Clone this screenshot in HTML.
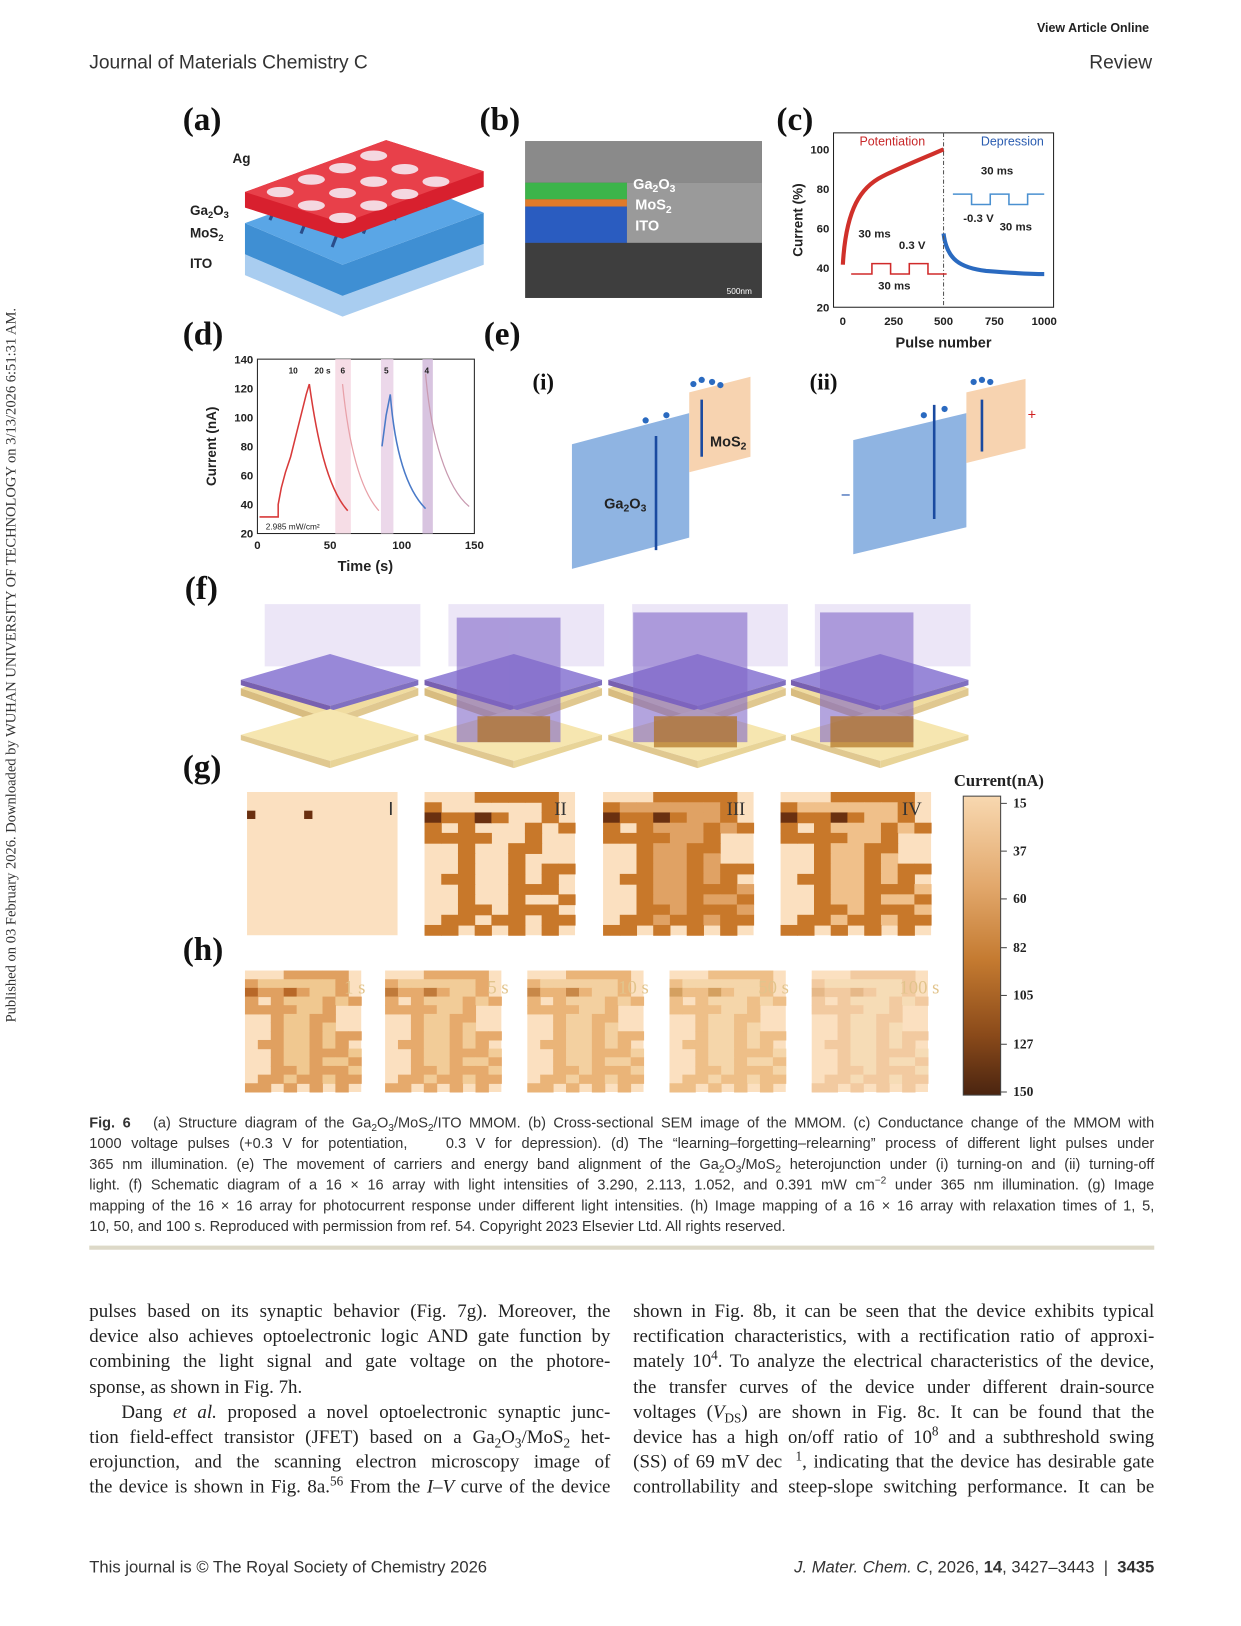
<!DOCTYPE html>
<html><head><meta charset="utf-8"><style>
*{margin:0;padding:0;box-sizing:border-box}
body{width:1241px;height:1625px;background:#fff;overflow:hidden;position:relative}
#w{position:absolute;left:0;top:0;width:1196px;height:1566px;transform:scale(1.038);transform-origin:0 0;font-family:"Liberation Sans",sans-serif;color:#222}
.a{position:absolute;white-space:nowrap}
.lab{font-family:"Liberation Serif",serif;font-weight:bold;font-size:32px;color:#111}
.cap{font-size:14px;line-height:20px;color:#333;text-align:justify;text-align-last:justify}
.body{font-family:"Liberation Serif",serif;font-size:18.2px;line-height:24.2px;color:#222;text-align:justify;text-align-last:justify}
.cap div,.body div{white-space:nowrap;height:20px}
.body div{height:24.2px}
sub,sup{line-height:0;font-size:70%}
</style></head><body><div id="w">
<div class="a" style="left:999px;top:20px;font-size:12px;font-weight:bold">View Article Online</div>
<div class="a" style="left:86px;top:49px;font-size:18.5px;color:#333">Journal of Materials Chemistry C</div>
<div class="a" style="right:86px;top:49px;font-size:18.5px;color:#333">Review</div>
<div class="a" style="left:4px;top:985px;transform:rotate(-90deg);transform-origin:0 0;font-family:'Liberation Serif',serif;font-size:14px;color:#333">Published on 03 February 2026. Downloaded by WUHAN UNIVERSITY OF TECHNOLOGY on 3/13/2026 6:51:31 AM.</div>

<div class="a lab" style="left:176px;top:96px">(a)</div>
<div class="a lab" style="left:462px;top:96px">(b)</div>
<div class="a lab" style="left:748px;top:96px">(c)</div>
<div class="a lab" style="left:176px;top:303px">(d)</div>
<div class="a lab" style="left:466px;top:303px">(e)</div>
<div class="a lab" style="left:178px;top:548px">(f)</div>
<div class="a lab" style="left:176px;top:720px">(g)</div>
<div class="a lab" style="left:176px;top:896px">(h)</div>

<svg class="a" style="left:0;top:0" width="1188" height="1060" font-family="Liberation Sans,sans-serif">
<polygon points="236,245 330,285 466,235 466,255 330,305 236,265" fill="#a9cdf0"/>
<polygon points="236,215 330,255 466,205 466,235 330,285 236,245" fill="#3f8fd3"/>
<polygon points="236,215 372,165 466,205 330,255" fill="#5aa6e6"/>
<g stroke="#2a4d8a" stroke-width="3"><line x1="260" y1="212" x2="270" y2="190"/><line x1="290" y1="225" x2="300" y2="200"/><line x1="320" y1="238" x2="330" y2="212"/><line x1="350" y1="225" x2="360" y2="200"/><line x1="380" y1="212" x2="390" y2="188"/><line x1="410" y1="200" x2="420" y2="178"/></g>
<polygon points="236,185 372,135 466,165 466,180 330,230 236,200" fill="#d8202e"/>
<polygon points="236,185 372,135 466,165 330,215" fill="#e8404a"/>
<g fill="#f4d8e0"><ellipse cx="270" cy="185" rx="13" ry="5"/><ellipse cx="300" cy="173" rx="13" ry="5"/><ellipse cx="330" cy="162" rx="13" ry="5"/><ellipse cx="360" cy="150" rx="13" ry="5"/><ellipse cx="300" cy="198" rx="13" ry="5"/><ellipse cx="330" cy="186" rx="13" ry="5"/><ellipse cx="360" cy="175" rx="13" ry="5"/><ellipse cx="390" cy="163" rx="13" ry="5"/><ellipse cx="330" cy="210" rx="13" ry="5"/><ellipse cx="360" cy="198" rx="13" ry="5"/><ellipse cx="390" cy="187" rx="13" ry="5"/><ellipse cx="420" cy="175" rx="13" ry="5"/></g>
<g font-size="13" font-weight="bold" fill="#222"><text x="224" y="157">Ag</text><text x="183" y="207">Ga<tspan font-size="9" dy="3">2</tspan><tspan dy="-3">O</tspan><tspan font-size="9" dy="3">3</tspan></text><text x="183" y="229">MoS<tspan font-size="9" dy="3">2</tspan></text><text x="183" y="258">ITO</text></g>
<rect x="506" y="136" width="228" height="151" fill="#5a5a5a"/>
<rect x="506" y="136" width="228" height="40" fill="#8a8a8a"/>
<rect x="506" y="176" width="98" height="16" fill="#3cb44a"/>
<rect x="506" y="192" width="98" height="7" fill="#e07a2a"/>
<rect x="506" y="199" width="98" height="35" fill="#2a5cc0"/>
<rect x="604" y="176" width="130" height="58" fill="#9a9a9a"/>
<rect x="506" y="234" width="228" height="53" fill="#3e3e3e"/>
<g font-size="14" font-weight="bold" fill="#fff"><text x="610" y="182">Ga<tspan font-size="10" dy="3">2</tspan><tspan dy="-3">O</tspan><tspan font-size="10" dy="3">3</tspan></text><text x="612" y="202">MoS<tspan font-size="10" dy="3">2</tspan></text><text x="612" y="222">ITO</text><text x="700" y="283" font-size="8" font-weight="normal">500nm</text></g>
<rect x="803" y="128" width="212" height="168" fill="none" stroke="#222"/>
<g font-size="11" font-weight="bold" fill="#222" text-anchor="end"><text x="799" y="148">100</text><text x="799" y="186">80</text><text x="799" y="224">60</text><text x="799" y="262">40</text><text x="799" y="300">20</text></g>
<g font-size="11" font-weight="bold" fill="#222" text-anchor="middle"><text x="812" y="313">0</text><text x="861" y="313">250</text><text x="909" y="313">500</text><text x="958" y="313">750</text><text x="1006" y="313">1000</text><text x="909" y="335" font-size="14">Pulse number</text></g>
<text x="773" y="212" font-size="13" font-weight="bold" fill="#222" transform="rotate(-90 773 212)" text-anchor="middle">Current (%)</text>
<path d="M812,255 C815,200 830,180 850,170 C870,160 890,152 909,144" stroke="#d0302a" stroke-width="4" fill="none"/>
<path d="M909,225 C912,250 925,258 950,261 C975,263 990,264 1006,264" stroke="#2a6ac0" stroke-width="4" fill="none"/>
<line x1="909" y1="128" x2="909" y2="296" stroke="#555" stroke-dasharray="4,2,1,2"/>
<text x="828" y="140" font-size="12" fill="#c8282a">Potentiation</text><text x="945" y="140" font-size="12" fill="#2a5cb0">Depression</text>
<path d="M820,264 h20 v-10 h18 v10 h18 v-10 h18 v10 h18" stroke="#d02a2a" fill="none" stroke-width="1.5"/>
<path d="M918,187 h18 v10 h18 v-10 h18 v10 h18 v-10 h16" stroke="#4a90d0" fill="none" stroke-width="1.5"/>
<g font-size="11" font-weight="bold" fill="#222"><text x="827" y="229">30 ms</text><text x="866" y="240">0.3 V</text><text x="846" y="279">30 ms</text><text x="945" y="168">30 ms</text><text x="928" y="214">-0.3 V</text><text x="963" y="222">30 ms</text></g>
<rect x="248" y="346" width="209" height="168" fill="none" stroke="#222"/>
<rect x="323" y="346" width="15" height="168" fill="#f6dde6"/><rect x="367" y="346" width="12" height="168" fill="#ecd8ea"/><rect x="407" y="346" width="10" height="168" fill="#d8c4e0"/>
<g font-size="11" font-weight="bold" fill="#222" text-anchor="end"><text x="244" y="350">140</text><text x="244" y="378">120</text><text x="244" y="406">100</text><text x="244" y="434">80</text><text x="244" y="462">60</text><text x="244" y="490">40</text><text x="244" y="518">20</text></g>
<g font-size="11" font-weight="bold" fill="#222" text-anchor="middle"><text x="248" y="529">0</text><text x="318" y="529">50</text><text x="387" y="529">100</text><text x="457" y="529">150</text><text x="352" y="550" font-size="14">Time (s)</text></g>
<text x="208" y="430" font-size="13" font-weight="bold" fill="#222" transform="rotate(-90 208 430)" text-anchor="middle">Current (nA)</text>
<path d="M250,498 h18 v-12 L271,470 L275,455 L280,440 L285,420 L290,400 L295,380 L298,370 C305,420 315,470 335,492" stroke="#d83a3a" stroke-width="1.5" fill="none"/>
<path d="M330,370 C335,420 345,470 365,492" stroke="#e8a0a8" stroke-width="1.2" fill="none"/>
<path d="M368,430 L372,400 L376,380 C380,430 390,470 410,490" stroke="#4a7ac8" stroke-width="1.5" fill="none"/>
<path d="M410,360 C415,420 430,470 452,488" stroke="#c89ab0" stroke-width="1.2" fill="none"/>
<g font-size="8" font-weight="bold" fill="#222"><text x="278" y="360">10</text><text x="303" y="360">20 s</text><text x="328" y="360">6</text><text x="370" y="360">5</text><text x="409" y="360">4</text><text x="256" y="510" font-weight="normal">2.985 mW/cm²</text></g>
<text x="513" y="375" font-family="Liberation Serif,serif" font-weight="bold" font-size="22" fill="#111">(i)</text>
<text x="780" y="375" font-family="Liberation Serif,serif" font-weight="bold" font-size="22" fill="#111">(ii)</text>
<polygon points="551,428 664,398 664,518 551,548" fill="#8fb4e2"/>
<polygon points="664,378 723,363 723,440 664,455" fill="#f7d3b0"/>
<line x1="632" y1="530" x2="632" y2="420" stroke="#1a4aa0" stroke-width="2.5"/>
<line x1="676" y1="440" x2="676" y2="385" stroke="#1a4aa0" stroke-width="2.5"/>
<g font-size="14" font-weight="bold" fill="#222"><text x="582" y="490">Ga<tspan font-size="10" dy="3">2</tspan><tspan dy="-3">O</tspan><tspan font-size="10" dy="3">3</tspan></text><text x="684" y="430">MoS<tspan font-size="10" dy="3">2</tspan></text><text x="848" y="483">Ga<tspan font-size="10" dy="3">2</tspan><tspan dy="-3">O</tspan><tspan font-size="10" dy="3">3</tspan></text><text x="950" y="412">MoS<tspan font-size="10" dy="3">2</tspan></text></g>
<polygon points="822,424 931,398 931,508 822,534" fill="#8fb4e2"/>
<polygon points="931,378 988,365 988,432 931,446" fill="#f7d3b0"/>
<line x1="900" y1="390" x2="900" y2="500" stroke="#1a4aa0" stroke-width="2.5"/>
<line x1="946" y1="385" x2="946" y2="435" stroke="#1a4aa0" stroke-width="2.5"/>
<g fill="#2a6ac0"><circle cx="622" cy="405" r="3"/><circle cx="642" cy="400" r="3"/><circle cx="668" cy="370" r="3"/><circle cx="676" cy="366" r="3"/><circle cx="686" cy="368" r="3"/><circle cx="694" cy="371" r="3"/><circle cx="890" cy="400" r="3"/><circle cx="910" cy="394" r="3"/><circle cx="938" cy="368" r="3"/><circle cx="946" cy="366" r="3"/><circle cx="954" cy="368" r="3"/></g>
<text x="810" y="482" font-size="16" fill="#2a5ab0">−</text><text x="990" y="404" font-size="14" fill="#d02020">+</text>
<g>
<g id="pl">
<rect x="255" y="582" width="150" height="60" fill="#c8b8e8" opacity="0.35"/>
<polygon points="232,663 318,633 403,663 318,693" fill="#f0dca0"/><polygon points="232,663 318,693 318,700 232,670" fill="#d8bc80"/><polygon points="318,693 403,663 403,670 318,700" fill="#e0c890"/>
<polygon points="232,655 318,630 403,655 318,680" fill="#9888d8"/><polygon points="232,655 318,680 318,685 232,660" fill="#7860b0"/><polygon points="318,680 403,655 403,660 318,685" fill="#8070c0"/>
<polygon points="232,708 318,683 403,708 318,733" fill="#f6e6b0"/><polygon points="232,708 318,733 318,740 232,713" fill="#e0c890"/><polygon points="318,733 403,708 403,713 318,740" fill="#e8d498"/>
</g>
<use href="#pl" x="177"/><use href="#pl" x="354"/><use href="#pl" x="530"/>
<g fill="#8068c8" opacity="0.6"><rect x="440" y="595" width="100" height="120"/><rect x="610" y="590" width="110" height="125"/><rect x="790" y="590" width="90" height="125"/></g>
<g fill="#b07020" opacity="0.7"><rect x="460" y="690" width="70" height="25"/><rect x="630" y="690" width="80" height="30"/><rect x="800" y="690" width="80" height="30"/></g>
</g>
</svg>

<svg class="a" style="left:0;top:740px" width="1188" height="330" font-family="Liberation Serif,serif">
<defs>
<linearGradient id="cb" x1="0" y1="0" x2="0" y2="1"><stop offset="0" stop-color="#f8d8b0"/><stop offset="0.3" stop-color="#e2a86c"/><stop offset="0.55" stop-color="#c47a30"/><stop offset="0.8" stop-color="#8a4a1a"/><stop offset="1" stop-color="#4a2410"/></linearGradient>
</defs>
<g id="gg"></g>
<text x="919" y="17" font-size="16" font-weight="bold" fill="#222">Current(nA)</text>
<rect x="928" y="27" width="36" height="288" fill="url(#cb)" stroke="#444"/>
<g font-size="13" font-weight="bold" fill="#222"><text x="976" y="38">15</text><text x="976" y="84">37</text><text x="976" y="130">60</text><text x="976" y="177">82</text><text x="976" y="223">105</text><text x="976" y="270">127</text><text x="976" y="316">150</text></g>
<g stroke="#444"><line x1="964" y1="34" x2="970" y2="34"/><line x1="964" y1="80" x2="970" y2="80"/><line x1="964" y1="126" x2="970" y2="126"/><line x1="964" y1="173" x2="970" y2="173"/><line x1="964" y1="219" x2="970" y2="219"/><line x1="964" y1="266" x2="970" y2="266"/><line x1="964" y1="312" x2="970" y2="312"/></g>
</svg>
<script>
(function(){
var mask=["...XXXXX.","X......X.","DXXDX..X.","X.X...X.X","XXXX..X..","..X..XX..","..X..X...","..X..X.XX",".XX..X.X.","..X..XXX.","..X..X..X","..XX.XXX.",".XX.XX.XX","XX.X.X.X."];
var fill=["...FFFFF.",".FFFFFFF.",".FFFFFF..","..FFFFFF.","....FFF..","...FFFF..","...FFFF..","...FFFFF.","...FFFFF.","...FFFFFF","...FFFFFF","...FFFFFF","...FFFFF.","...F.F..."];
var g=document.getElementById('gg'),s='',txts='';
function img(x,y,w,h,bg,col,dark,fc,txt,tc,tx,anc){
 var cw=w/9,ch=h/14;s+='<rect x="'+x+'" y="'+y+'" width="'+w+'" height="'+h+'" fill="'+bg+'"/>';
 for(var r=0;r<14;r++)for(var c=0;c<9;c++){var m=mask[r][c],f=fill[r][c],cl=null;
  if(m=='D')cl=dark;else if(m=='X')cl=col;else if(f=='F'&&fc)cl=fc;
  if(cl)s+='<rect x="'+(x+c*cw).toFixed(1)+'" y="'+(y+r*ch).toFixed(1)+'" width="'+(cw+0.5).toFixed(1)+'" height="'+(ch+0.5).toFixed(1)+'" fill="'+cl+'"/>';}
 txts+='<text x="'+tx+'" y="'+(y+22)+'" font-size="18" fill="'+tc+'" text-anchor="'+(anc||'end')+'">'+txt+'</text>';
}
s+='<rect x="238" y="23" width="145" height="138" fill="#fbe0c0"/><rect x="238" y="41" width="8" height="8" fill="#6a3010"/><rect x="293" y="41" width="8" height="8" fill="#6a3010"/><text x="374" y="45" font-size="18" fill="#333" font-family="Liberation Sans">I</text>';
img(409,23,145,138,'#fbe0c0','#c8782a','#6a3010',null,'II','#333',546);
img(581,23,145,138,'#fbe0c0','#c8782a','#6a3010','#e0a264','III','#333',718);
img(752,23,145,138,'#fbe0c0','#c8782a','#6a3010','#f0c08a','IV','#333',888);
var hs=[[236,'#e0a060','#b86828','#f0c890','1 s',352],[371,'#e6aa6c','#c07a3a','#f2cc98','5 s',490],[508,'#eab478','#c88848','#f3d0a0','10 s',625],[645,'#eebf88','#d4a060','#f5d6aa','50 s',760],[782,'#f2caa0','#e6b888','#f6dcb6','100 s',905]];
hs.forEach(function(h){img(h[0],195,112,117,'#fbe0c0',h[1],h[2],h[3],h[4],'#e2c48c',h[5]);});
g.innerHTML=s+txts;
})();
</script>

<div class="a cap" style="left:86px;top:1071px;width:1026px">
<div><b>Fig. 6</b> &nbsp; (a) Structure diagram of the Ga<sub>2</sub>O<sub>3</sub>/MoS<sub>2</sub>/ITO MMOM. (b) Cross-sectional SEM image of the MMOM. (c) Conductance change of the MMOM with</div>
<div>1000 voltage pulses (+0.3 V for potentiation, &nbsp;&nbsp; 0.3 V for depression). (d) The “learning–forgetting–relearning” process of different light pulses under</div>
<div>365 nm illumination. (e) The movement of carriers and energy band alignment of the Ga<sub>2</sub>O<sub>3</sub>/MoS<sub>2</sub> heterojunction under (i) turning-on and (ii) turning-off</div>
<div>light. (f) Schematic diagram of a 16 × 16 array with light intensities of 3.290, 2.113, 1.052, and 0.391 mW cm<sup>−2</sup> under 365 nm illumination. (g) Image</div>
<div>mapping of the 16 × 16 array for photocurrent response under different light intensities. (h) Image mapping of a 16 × 16 array with relaxation times of 1, 5,</div>
<div style="text-align-last:left">10, 50, and 100 s. Reproduced with permission from ref. 54. Copyright 2023 Elsevier Ltd. All rights reserved.</div>
</div>
<div class="a" style="left:86px;top:1200px;width:1026px;height:4px;background:#ddd9c8"></div>

<div class="a body" style="left:86px;top:1251px;width:502px">
<div>pulses based on its synaptic behavior (Fig. 7g). Moreover, the</div>
<div>device also achieves optoelectronic logic AND gate function by</div>
<div>combining the light signal and gate voltage on the photore-</div>
<div style="text-align-last:left">sponse, as shown in Fig. 7h.</div>
<div>&nbsp;&nbsp;&nbsp;Dang <i>et al.</i> proposed a novel optoelectronic synaptic junc-</div>
<div>tion field-effect transistor (JFET) based on a Ga<sub>2</sub>O<sub>3</sub>/MoS<sub>2</sub> het-</div>
<div>erojunction, and the scanning electron microscopy image of</div>
<div>the device is shown in Fig. 8a.<sup>56</sup> From the <i>I–V</i> curve of the device</div>
</div>
<div class="a body" style="left:610px;top:1251px;width:502px">
<div>shown in Fig. 8b, it can be seen that the device exhibits typical</div>
<div>rectification characteristics, with a rectification ratio of approxi-</div>
<div>mately 10<sup>4</sup>. To analyze the electrical characteristics of the device,</div>
<div>the transfer curves of the device under different drain-source</div>
<div>voltages (<i>V</i><sub>DS</sub>) are shown in Fig. 8c. It can be found that the</div>
<div>device has a high on/off ratio of 10<sup>8</sup> and a subthreshold swing</div>
<div>(SS) of 69 mV dec &nbsp;<sup>1</sup>, indicating that the device has desirable gate</div>
<div>controllability and steep-slope switching performance. It can be</div>
</div>

<div class="a" style="left:86px;top:1502px;font-size:16px;color:#333">This journal is © The Royal Society of Chemistry 2026</div>
<div class="a" style="right:84px;top:1502px;font-size:16px;color:#333"><i>J. Mater. Chem. C</i>, 2026, <b>14</b>, 3427–3443 &nbsp;| &nbsp;<b>3435</b></div>
</div></body></html>
